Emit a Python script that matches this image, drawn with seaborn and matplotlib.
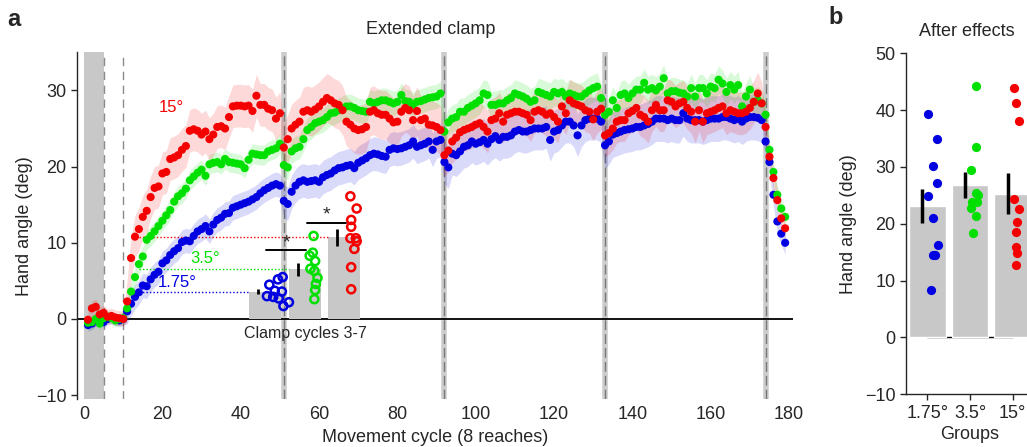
import numpy as np
import pandas as pd
import matplotlib
matplotlib.use("Agg")
import matplotlib.pyplot as plt
import seaborn as sns

# ---- data ---------------------------------------------------------------
groups = ["1.75°", "3.5°", "15°"]
colors = {"1.75°": "#0000e0", "3.5°": "#00e000", "15°": "#f50000"}

# hand angle per movement cycle (cycles 1..179)
blue_angle = [
    -0.8, -0.6, -0.2, 0.2, -0.4, 0.0, 0.2, -0.1, -0.2, 0.0,
    1.0, 2.0, 2.9, 3.5, 4.4, 4.3, 5.2, 5.8, 6.2, 7.3,
    7.7, 8.4, 8.9, 9.3, 10.1, 10.3, 10.2, 10.9, 11.5, 11.8,
    12.2, 11.5, 12.4, 13.0, 13.3, 13.8, 13.9, 14.6, 14.8, 15.0,
    15.2, 15.4, 15.7, 16.0, 16.5, 16.9, 17.2, 17.5, 17.7, 17.5,
    15.5, 15.1, 16.7, 17.5, 18.0, 18.2, 18.0, 18.1, 18.2, 18.0,
    18.6, 18.9, 19.1, 19.5, 19.8, 19.9, 20.1, 20.2, 19.8, 20.5,
    20.8, 21.1, 21.5, 21.7, 21.6, 21.4, 21.3, 22.2, 22.4, 22.3,
    22.4, 22.6, 22.8, 23.3, 22.6, 22.8, 23.0, 23.3, 22.2, 23.3,
    23.5, 20.6, 19.9, 21.7, 21.5, 22.0, 22.6, 22.8, 23.3, 23.0,
    23.2, 23.5, 23.0, 23.6, 24.0, 23.5, 23.9, 23.9, 24.1, 24.6,
    24.8, 24.6, 24.6, 24.8, 25.0, 25.0, 25.0, 25.2, 23.5, 24.6,
    24.8, 25.4, 25.9, 25.9, 25.4, 24.1, 25.4, 26.1, 26.3, 26.3,
    26.3, 25.9, 22.8, 23.3, 24.2, 24.4, 24.6, 24.8, 24.9, 25.0,
    25.2, 25.2, 25.4, 25.6, 25.9, 26.3, 26.3, 26.3, 26.1, 26.3,
    26.1, 26.1, 27.0, 26.3, 26.1, 26.1, 26.1, 25.9, 26.1, 26.3,
    26.3, 26.3, 26.5, 26.5, 26.3, 26.1, 26.3, 25.9, 26.3, 26.5,
    26.5, 26.4, 26.1, 23.3, 20.6, 16.3, 12.8, 11.2, 10.0,
]
green_angle = [
    -0.5, -0.4, 0.0, -0.6, 0.1, 0.3, 0.1, -0.2, 0.0, 0.1,
    1.4, 3.6, 5.5, 7.2, 8.2, 10.4, 10.9, 11.5, 12.2, 12.9,
    13.6, 14.3, 15.4, 16.1, 16.5, 17.1, 18.2, 18.7, 19.2, 19.6,
    18.8, 20.3, 20.5, 20.6, 20.3, 21.0, 20.6, 20.5, 20.4, 20.3,
    19.8, 20.9, 21.7, 21.6, 21.5, 21.5, 22.0, 22.2, 22.4, 23.0,
    20.2, 19.9, 22.0, 22.4, 22.6, 23.6, 24.8, 25.2, 25.7, 25.9,
    26.1, 26.5, 27.0, 27.1, 27.4, 27.7, 27.9, 27.9, 27.7, 27.4,
    27.3, 27.2, 28.5, 28.3, 28.5, 28.7, 28.7, 28.5, 28.3, 28.5,
    29.4, 28.6, 28.5, 28.1, 28.5, 28.6, 28.8, 29.0, 29.1, 29.2,
    29.6, 24.6, 25.8, 26.3, 26.5, 27.2, 27.2, 27.7, 28.0, 28.3,
    28.7, 29.6, 29.4, 28.1, 28.1, 28.3, 28.3, 28.7, 29.0, 29.6,
    29.4, 29.2, 28.9, 28.5, 28.7, 29.8, 29.6, 29.4, 29.2, 29.8,
    29.6, 29.8, 29.2, 29.6, 29.4, 29.2, 29.2, 29.6, 30.0, 30.3,
    30.5, 29.0, 26.8, 27.2, 28.7, 27.7, 29.4, 29.6, 29.0, 29.6,
    30.1, 30.1, 31.0, 30.1, 30.3, 30.0, 30.5, 31.6, 29.6, 29.9,
    29.9, 29.7, 29.6, 29.2, 30.3, 29.2, 30.3, 30.3, 29.6, 30.5,
    30.3, 31.4, 30.9, 29.8, 30.7, 30.1, 30.7, 27.9, 29.2, 30.1,
    28.5, 28.7, 28.3, 26.8, 22.2, 19.3, 16.3, 14.5, 13.4,
]
red_angle = [
    -0.1, 1.4, 1.6, 0.6, 0.8, 0.3, 0.4, 0.2, 0.1, 0.0,
    2.3, 8.0, 10.8, 11.8, 13.4, 14.2, 16.0, 17.2, 17.4, 19.1,
    19.3, 21.0, 21.2, 21.5, 22.2, 22.7, 24.7, 24.9, 24.7, 24.2,
    24.6, 23.6, 24.2, 25.2, 25.3, 25.0, 26.5, 27.9, 28.0, 28.0,
    27.9, 28.0, 27.3, 29.3, 28.1, 28.1, 27.6, 27.4, 26.3, 27.0,
    22.5, 23.6, 25.0, 25.5, 25.9, 27.2, 27.4, 27.2, 27.5, 27.9,
    28.5, 29.0, 28.7, 28.3, 28.1, 27.4, 25.9, 25.5, 25.0, 24.8,
    24.9, 25.2, 27.2, 27.4, 27.0, 26.8, 26.8, 26.3, 25.8, 25.9,
    27.2, 27.7, 27.4, 26.1, 27.3, 26.1, 26.3, 25.5, 25.4, 25.2,
    24.8, 21.5, 22.1, 23.3, 23.8, 24.5, 24.8, 25.0, 25.2, 25.5,
    25.7, 25.2, 24.6, 26.1, 26.3, 27.0, 25.9, 26.8, 27.0, 27.2,
    27.2, 27.0, 26.8, 26.1, 27.2, 27.4, 27.2, 26.8, 27.0, 26.5,
    25.9, 27.9, 27.0, 28.7, 28.3, 28.1, 27.9, 27.4, 27.2, 26.2,
    27.2, 27.6, 24.1, 24.4, 25.0, 25.9, 26.1, 26.1, 27.0, 27.3,
    27.7, 26.8, 26.5, 25.9, 27.4, 28.1, 27.4, 27.4, 28.7, 28.5,
    27.9, 28.3, 28.5, 27.7, 27.2, 25.9, 27.4, 25.9, 27.0, 27.2,
    27.4, 27.7, 27.9, 27.0, 27.4, 27.2, 27.0, 27.0, 27.2, 27.7,
    28.5, 29.6, 28.3, 25.2, 21.3, 18.5, 15.6, 13.2, 11.9,
]
cycles = np.arange(1, len(red_angle) + 1)

# SEM per block: baseline, clamp 11-50, 51-91, 92-132, 133-173, aftereffect
block_len = [10, 40, 41, 41, 41, 6]
blue_sem = [0.8, 1.6, 2.2, 2.8, 3.0, 1.5]
green_sem = [0.8, 1.3, 1.6, 1.8, 1.8, 1.2]
red_sem = [1.0, 2.8, 3.2, 2.8, 2.8, 1.5]

# inset: mean hand angle over clamp cycles 3-7, individuals
early_mean = [3.6, 6.5, 10.7]
early_sem = [0.35, 0.8, 1.1]
early_blue = [5.5, 5.2, 4.5, 3.7, 3.6, 3.0, 2.9, 2.7, 1.7, 2.2]
early_green = [10.9, 8.7, 8.3, 7.6, 6.6, 6.3, 5.4, 4.6, 3.8, 2.6]
early_red = [16.1, 14.5, 13.0, 12.1, 10.6, 10.6, 10.2, 9.2, 6.8, 3.9]

# after effects panel
after_mean = [23.1, 26.8, 25.3]
after_sem = [3.0, 2.25, 3.6]
after_blue = [39.4, 34.9, 30.1, 27.2, 24.9, 21.1, 16.2, 14.5, 14.5, 8.3]
after_green = [44.2, 33.6, 29.4, 25.4, 25.1, 23.9, 23.8, 22.7, 21.4, 18.3]
after_red = [43.9, 41.2, 38.1, 24.3, 22.6, 20.4, 18.5, 16.0, 14.8, 12.8]

break_cycles = [51, 92, 133, 174]

# ---- layout -------------------------------------------------------------
sns.set_style("ticks")
plt.rcParams["font.family"] = ["Liberation Sans", "DejaVu Sans"]
plt.rcParams["font.size"] = 13
plt.rcParams["axes.linewidth"] = 1.0

W, H = 1027, 447
fig = plt.figure(figsize=(W / 100, H / 100), dpi=100)
ax = fig.add_axes([77 / W, 1 - 399 / H, 716 / W, 346.7 / H])
axb = fig.add_axes([906 / W, 1 - 394.3 / H, 128 / W, 341 / H])

# ---- panel a ------------------------------------------------------------
ax.axvspan(0, 5, color="#c8c8c8", lw=0, zorder=0)
for xc in (5, 10):
    ax.axvline(xc, color="#8a8a8a", lw=1, dashes=(6, 4), zorder=1)
for xc in break_cycles:
    ax.axvline(xc, color="#cccccc", lw=4, zorder=1)
    ax.axvline(xc, color="#777777", lw=1, dashes=(7, 3), zorder=1.1)
ax.axhline(0, color="black", lw=1.3, zorder=2)

series = {"1.75°": (blue_angle, blue_sem),
          "3.5°": (green_angle, green_sem),
          "15°": (red_angle, red_sem)}
frames = []
for g in groups:
    vals, sem = series[g]
    vals = np.array(vals)
    sem_arr = np.repeat(sem, block_len)
    ax.fill_between(cycles, vals - sem_arr, vals + sem_arr,
                    color=colors[g], alpha=0.15, lw=0, zorder=2.5)
    frames.append(pd.DataFrame({"cycle": cycles, "angle": vals, "group": g}))
df = pd.concat(frames, ignore_index=True)
sns.scatterplot(data=df, x="cycle", y="angle", hue="group", hue_order=groups,
                palette=colors, s=34, linewidth=0, legend=False, ax=ax, zorder=3)

# inset bars: clamp cycles 3-7
bar_x = [46.1, 56.4, 66.4]
bar_w = 8.2
ax.bar(bar_x, early_mean, width=bar_w, color="#c8c8c8", lw=0, zorder=2.2)
early_pts = {"1.75°": early_blue, "3.5°": early_green, "15°": early_red}
early_dx = [[4.6, 3.4, 1.2, 2.6, 4.4, 0.6, 2.2, 3.6, 4.8, 6.2],
            [2.2, 2.0, 1.2, 2.6, 1.4, 2.4, 3.2, 2.8, 2.6, 2.4],
            [1.6, 3.2, 1.8, 1.8, 1.6, 3.0, 3.2, 2.6, 1.8, 1.8]]
for i, g in enumerate(groups):
    ax.hlines(early_mean[i], 14, bar_x[i] - bar_w / 2, color=colors[g],
              lw=1, linestyles=(0, (1, 1.5)), zorder=2.3)
    ex = bar_x[i] - 1.7
    ax.plot([ex, ex], [early_mean[i] - early_sem[i], early_mean[i] + early_sem[i]],
            color="black", lw=2, solid_capstyle="butt", zorder=4)
    sns.scatterplot(x=np.array(early_dx[i]) + bar_x[i], y=early_pts[g], ax=ax,
                    s=34, facecolors="none", edgecolors=colors[g],
                    linewidths=1.8, zorder=5)

ax.plot([46.5, 56.7], [9.0, 9.0], color="black", lw=1.4, zorder=4)
ax.plot([57.0, 67.0], [12.6, 12.6], color="black", lw=1.4, zorder=4)
ax.text(51.6, 8.9, "*", ha="center", va="bottom", fontsize=14)
ax.text(62.0, 12.5, "*", ha="center", va="bottom", fontsize=14)
ax.text(56.6, -0.9, "Clamp cycles 3-7", ha="center", va="top", fontsize=11.5)

ax.text(22.4, 27.8, "15°", color=colors["15°"], ha="center", va="center", fontsize=12)
ax.text(30.9, 7.9, "3.5°", color=colors["3.5°"], ha="center", va="center", fontsize=12)
ax.text(23.9, 4.8, "1.75°", color=colors["1.75°"], ha="center", va="center", fontsize=12)

ax.set_xlim(-1.8, 181)
ax.set_ylim(-10.5, 35)
ax.set_xticks(range(0, 181, 20))
ax.set_yticks([-10, 0, 10, 20, 30])
ax.set_xlabel("Movement cycle (8 reaches)", labelpad=4)
ax.set_ylabel("Hand angle (deg)", labelpad=2)
sns.despine(ax=ax, bottom=True)
ax.tick_params(axis="x", length=0, pad=5)
ax.tick_params(axis="y", length=4, width=1)

# ---- panel b ------------------------------------------------------------
axb.plot([0, 2], [0, 0], color="black", lw=1, zorder=0.5)
sns.barplot(x=groups, y=after_mean, color="#c8c8c8", width=0.86,
            errorbar=None, saturation=1, ax=axb, zorder=1)
after_pts = {"1.75°": after_blue, "3.5°": after_green, "15°": after_red}
after_dx = [[0.02, 0.22, 0.13, 0.22, 0.02, 0.13, 0.26, 0.13, 0.17, 0.08],
            [0.13, 0.13, 0.02, 0.13, 0.19, 0.05, 0.17, 0.03, 0.13, 0.08],
            [0.02, 0.07, 0.15, 0.03, 0.15, 0.11, 0.07, 0.07, 0.11, 0.07]]
for i, g in enumerate(groups):
    ex = i - 0.12
    axb.plot([ex, ex], [after_mean[i] - after_sem[i], after_mean[i] + after_sem[i]],
             color="black", lw=2.5, solid_capstyle="butt", zorder=3)
    sns.scatterplot(x=np.array(after_dx[i]) + i, y=after_pts[g], ax=axb,
                    color=colors[g], s=44, linewidth=0, zorder=4)

axb.set_xlim(-0.5, 2.5)
axb.set_ylim(-10, 50)
axb.set_xticks([0, 1, 2])
axb.set_xticklabels(groups)
axb.set_yticks([-10, 0, 10, 20, 30, 40, 50])
axb.set_xlabel("Groups", labelpad=3)
axb.set_ylabel("Hand angle (deg)", labelpad=6)
sns.despine(ax=axb)
axb.tick_params(length=4, width=1)

# ---- titles / panel letters ---------------------------------------------
fig.text(431 / W, 1 - 30 / H, "Extended clamp", ha="center", va="center", fontsize=13)
fig.text(967 / W, 1 - 32 / H, "After effects", ha="center", va="center", fontsize=13)
fig.text(14 / W, 1 - 20 / H, "a", ha="center", va="center", fontsize=17, fontweight="bold")
fig.text(836 / W, 1 - 18 / H, "b", ha="center", va="center", fontsize=17, fontweight="bold")

fig.savefig("out.png", dpi=100)
